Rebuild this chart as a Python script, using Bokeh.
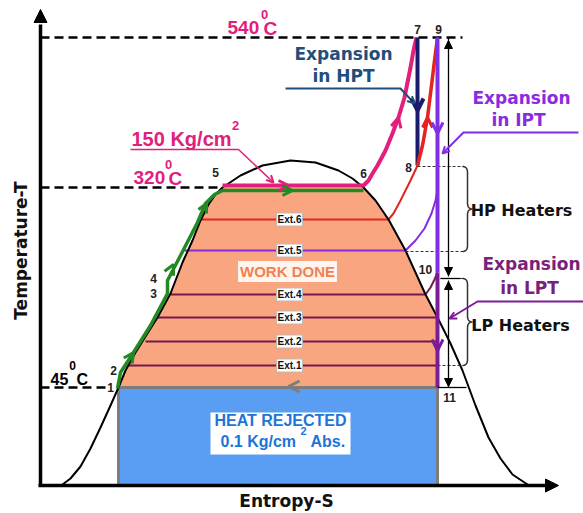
import numpy as np
from bokeh.plotting import figure
from bokeh.models import Range1d, Label, Arrow, OpenHead, NormalHead
from bokeh.embed import file_html
from bokeh.resources import INLINE

# ---------------- data (schematic T-s diagram; s grows to the right, T axis is flipped so larger T is higher) -------
# saturation dome
dome_s = [62, 70, 80, 90, 100, 110, 118, 125, 135, 145, 157, 170, 182, 192, 200, 208, 215, 222,
          240, 262, 290, 315, 338, 352, 363, 375, 388, 405, 425, 437, 450, 462, 475, 488, 500, 512, 527]
dome_T = [484, 478, 466, 448, 427, 405, 387, 370, 352, 336, 317, 293, 262, 240, 220, 204, 194, 187,
          175, 165, 160, 162, 170, 178, 187, 200, 219, 250, 294, 317, 343, 370, 405, 437, 458, 474, 484]

# state points
pt_labels = ["1", "2", "3", "4", "5", "6", "7", "8", "9", "10", "11"]
pt_s = [110, 113, 153, 153, 215, 363, 417, 408, 438, 425, 449]
pt_T = [387, 370, 293, 278, 172, 173, 29, 167, 29, 269, 397]

# reference temperatures (levels)
T_top, T_boil, T_cond = 37, 187, 387
s_axis, T_axis = 40, 485
s_1, s_5, s_6, s_turb = 118, 222, 363, 437

# feed heating line 1-2-3-4-5 (green)
feed_s = [117, 120, 133, 150, 167, 167, 180, 197, 205, 214, 222, 363]
feed_T = [388, 372, 352, 325, 293, 280, 255, 222, 203, 194, 190, 190]
# boiler + superheater 5-6-7 (magenta)
boil_s = [222, 363, 368, 372, 377, 385, 392, 398, 404, 410, 413, 416]
boil_T = [185, 185, 180, 173, 165, 150, 133, 117, 97, 67, 50, 37]
# HPT expansion 7-8
hpt_s = [417, 417]
hpt_T = [37, 165]
# reheat 8-9 (red)
reheat_s = [417, 422, 427, 431, 434, 437]
reheat_T = [165, 145, 117, 85, 60, 37]
# IPT 9-10 and LPT 10-11
ipt_s, ipt_T = [437, 437], [37, 272]
lpt_s, lpt_T = [437, 437], [272, 387]

# extractions
ext_names = ["Ext.1", "Ext.2", "Ext.3", "Ext.4", "Ext.5", "Ext.6"]
ext_T = [365, 341, 317, 294, 250, 219]
ext_s0 = [125, 145, 157, 170, 184, 200]
ext_s1 = [437, 437, 437, 425, 405, 388]
ext_colors = ["#751852", "#751852", "#751852", "#751852", "#8a2be2", "#e3241f"]
ext6_s = [388, 393, 400, 410, 417]
ext6_T = [219, 213, 200, 180, 165]
ext5_s = [405, 415, 424, 431, 435, 437]
ext5_T = [250, 240, 228, 213, 200, 190]
ext4_s = [425, 430, 434, 437]
ext4_T = [294, 287, 279, 272]

# heater groups
hp_range = [166, 251]
lp_range = [278, 365]

# ---------------- figure ----------------
W, H = 583, 513
p = figure(width=W, height=H, x_range=Range1d(0, W), y_range=Range1d(H, 0),
           output_backend="svg", toolbar_location=None,
           x_axis_location=None, y_axis_location=None,
           background_fill_color="white", border_fill_color="white")
p.min_border_left = p.min_border_right = p.min_border_top = p.min_border_bottom = 0
p.outline_line_color = None
p.xgrid.visible = False
p.ygrid.visible = False

SALMON = "#f9a57f"
BLUE = "#5a9ef3"
MAG = "#e2207c"
GREEN = "#238a23"
RED = "#e3241f"
VIOLET = "#7f2fe8"
NAVY = "#1b1b6e"
LPC = "#7d1a95"

# work-done area and heat-rejected area
i1 = dome_s.index(s_1)
i5 = dome_s.index(s_5)
i6 = dome_s.index(s_6)
it = dome_s.index(s_turb)
work_s = dome_s[i1:i5 + 1] + dome_s[i6:it + 1] + [s_turb]
work_T = dome_T[i1:i5 + 1] + dome_T[i6:it + 1] + [T_cond]
p.patch(work_s, work_T, fill_color=SALMON, line_color=None)
p.quad(left=[s_1], right=[s_turb], top=[T_cond], bottom=[T_axis], fill_color=BLUE, line_color=None)
p.line([s_1, s_1, s_turb, s_turb], [T_axis, T_cond, T_cond, T_axis], line_color="#7d7d7d", line_width=3)

# extraction lines
for T, s0, s1, c in zip(ext_T, ext_s0, ext_s1, ext_colors):
    p.line([s0, s1], [T, T], line_color=c, line_width=2.2)
p.line(ext6_s, ext6_T, line_color=RED, line_width=2)
p.line(ext5_s, ext5_T, line_color="#8a2be2", line_width=2)
p.line(ext4_s, ext4_T, line_color="#751852", line_width=2)

# dome
p.line(dome_s, dome_T, line_color="black", line_width=2)

# dashed level lines
p.line([s_axis, 462], [T_top, T_top], line_color="black", line_width=2.5, line_dash="9 5")
p.line([s_axis, s_5], [T_boil, T_boil], line_color="black", line_width=2.5, line_dash="9 5")
p.line([s_axis, 108], [T_cond, T_cond], line_color="black", line_width=2.5, line_dash="9 5")

# thin dashed heater limits
for y0, x0 in [(hp_range[0], 417), (hp_range[1], 405), (lp_range[0], 440), (lp_range[1], 437)]:
    p.line([x0, 463], [y0, y0], line_color="#333333", line_width=1.2, line_dash="3 2")

# cycle lines
p.line(feed_s, feed_T, line_color=GREEN, line_width=3.5)
p.line(boil_s, boil_T, line_color=MAG, line_width=4)
p.line(hpt_s, hpt_T, line_color=NAVY, line_width=4)
p.line(reheat_s, reheat_T, line_color=RED, line_width=3.5)
p.line(ipt_s, ipt_T, line_color=VIOLET, line_width=4)
p.line(lpt_s, lpt_T, line_color=LPC, line_width=4)

# thin marker line with arrows (heater ranges)
p.line([448, 448], [T_top, 276], line_color="black", line_width=1.3)
p.line([448, 448], [280, T_cond], line_color="black", line_width=1.3)
p.line([437, 466], [T_cond, T_cond], line_color="black", line_width=1.3)
p.line([440, 460], [278, 278], line_color="black", line_width=1.3)


def head(x0, y0, x1, y1, color, size=9, lw=3, filled=False):
    if filled:
        h = NormalHead(size=size, fill_color=color, line_color=color, line_width=1)
    else:
        h = OpenHead(size=size, line_color=color, line_width=lw)
    p.add_layout(Arrow(end=h, x_start=x0, y_start=y0, x_end=x1, y_end=y1,
                       line_alpha=0, line_width=0.1))


# direction arrowheads
head(284, 185, 288, 185, MAG, 10, 3)
head(288, 190, 292, 190, GREEN, 10, 3)
head(131, 355, 133, 352, GREEN, 10, 3)
head(171, 268, 173, 264, GREEN, 10, 3)
head(204, 207, 206, 203, GREEN, 9, 3)
head(397, 121, 398, 117, MAG, 10, 3)
head(427, 121, 427, 117, RED, 10, 3)
head(417, 104, 417, 110, NAVY, 12, 4)
head(437, 128, 437, 133, VIOLET, 11, 3)
head(437, 345, 437, 350, LPC, 11, 3)
head(292, 386, 288, 386, "#7d7d7d", 11, 3)
head(448, 50, 448, 40, "black", 8, filled=True)
head(448, 265, 448, 275, "black", 8, filled=True)
head(448, 290, 448, 281, "black", 8, filled=True)
head(448, 376, 448, 386, "black", 8, filled=True)

# axes
p.line([s_axis, s_axis], [T_axis + 1, 24], line_color="black", line_width=3.5)
p.line([38, 545], [T_axis, T_axis], line_color="black", line_width=3.5)
head(s_axis, 30, s_axis, 9, "black", 13, filled=True)
head(540, T_axis, 558, T_axis, "black", 13, filled=True)


# curly braces
def brace(s, t0, t1, depth):
    tm = (t0 + t1) / 2.0
    r = 6.0
    out_s, out_T = [], []
    u = np.linspace(0, 1, 12)

    def quad(a, c, b):
        return (1 - u) ** 2 * a + 2 * (1 - u) * u * c + u ** 2 * b
    xs = s + depth * 0.5
    seq = [((s, t0), (xs, t0), (xs, t0 + r)),
           ((xs, tm - r), (xs, tm), (s + depth, tm)),
           ((s + depth, tm), (xs, tm), (xs, tm + r)),
           ((xs, t1 - r), (xs, t1), (s, t1))]
    for (a, c, b) in seq:
        out_s += list(quad(a[0], c[0], b[0]))
        out_T += list(quad(a[1], c[1], b[1]))
    return out_s, out_T


bs, bt = brace(462, hp_range[0], hp_range[1], 10)
p.line(bs, bt, line_color="#333333", line_width=1.5)
bs, bt = brace(462, lp_range[0], lp_range[1], 10)
p.line(bs, bt, line_color="#333333", line_width=1.5)

# pointer lines for labels
p.line([285, 400, 414], [88, 88, 103], line_color="#1f4e7a", line_width=2)
head(410, 99, 414, 103, "#1f4e7a", 7, 2)
p.line([578, 463, 442], [132, 132, 153], line_color=VIOLET, line_width=2)
head(446, 149, 442, 153, VIOLET, 7, 2)
p.line([583, 477, 449], [301, 301, 318], line_color=LPC, line_width=2)
head(453, 316, 449, 318, LPC, 7, 2)
p.line([130, 238, 273], [149, 149, 182], line_color=MAG, line_width=1.5)
head(269, 178, 273, 182, MAG, 7, 2)

# white box for heat rejected
p.quad(left=[210], right=[350], top=[412], bottom=[454], fill_color="white", line_color=None)


def lab(x, y, text, size, color="black", font="Liberation Sans", bold=True, align="center", **kw):
    p.add_layout(Label(x=x, y=y, text=text, text_font=font, text_font_size=f"{size}px",
                       text_font_style="bold" if bold else "normal", text_color=color,
                       text_align=align, text_baseline="middle", **kw))


# Ext labels
for name, T in zip(ext_names, ext_T):
    lab(289, T, name, 10, "#111111", background_fill_color="white", border_line_color="#bbbbbb",
        padding=1)

lab(287, 271, "WORK DONE", 15, "#f28050", background_fill_color="#fff4ee", padding=2)
lab(280, 420, "HEAT REJECTED", 16, "#1e74d6")
lab(220, 441, "0.1 Kg/cm", 16, "#1e74d6", align="left")
lab(303, 430, "2", 11, "#1e74d6")
lab(310, 441, "Abs.", 16, "#1e74d6", align="left")

# temperature labels
lab(227, 27, "540", 19, MAG, align="left")
lab(264, 14, "0", 13, MAG)
lab(263, 28, "C", 19, MAG, align="left")
lab(133, 177, "320", 19, MAG, align="left")
lab(168, 164, "0", 13, MAG)
lab(168, 178, "C", 19, MAG, align="left")
lab(131, 138, "150 Kg/cm", 20, MAG, align="left")
lab(235, 125, "2", 13, MAG)
lab(50, 378, "45", 16, "black", align="left")
lab(72, 365, "0", 12, "black")
lab(76, 379, "C", 16, "black", align="left")

# state point labels
for t, s, T in zip(pt_labels, pt_s, pt_T):
    lab(s, T, t, 12, "#222222")

# expansion labels
lab(343, 53, "Expansion", 17, "#1f4e7a", font="DejaVu Sans")
lab(343, 75, "in HPT", 17, "#1f4e7a", font="DejaVu Sans")
lab(521, 97, "Expansion", 17, "#8a2be2", font="DejaVu Sans")
lab(518, 119, "in IPT", 17, "#8a2be2", font="DejaVu Sans")
lab(531, 263, "Expansion", 17, "#7a1f7a", font="DejaVu Sans")
lab(529, 287, "in LPT", 17, "#7a1f7a", font="DejaVu Sans")

# heater labels
lab(521, 210, "HP Heaters", 16, "#111111", font="DejaVu Sans")
lab(520, 325, "LP Heaters", 16, "#111111", font="DejaVu Sans")

# axis titles
lab(286, 500, "Entropy-S", 17, "#111111", font="DejaVu Sans")
lab(20, 250, "Temperature-T", 17, "#111111", font="DejaVu Sans", angle=np.pi / 2)

open("out.html", "w").write(file_html(p, INLINE))
